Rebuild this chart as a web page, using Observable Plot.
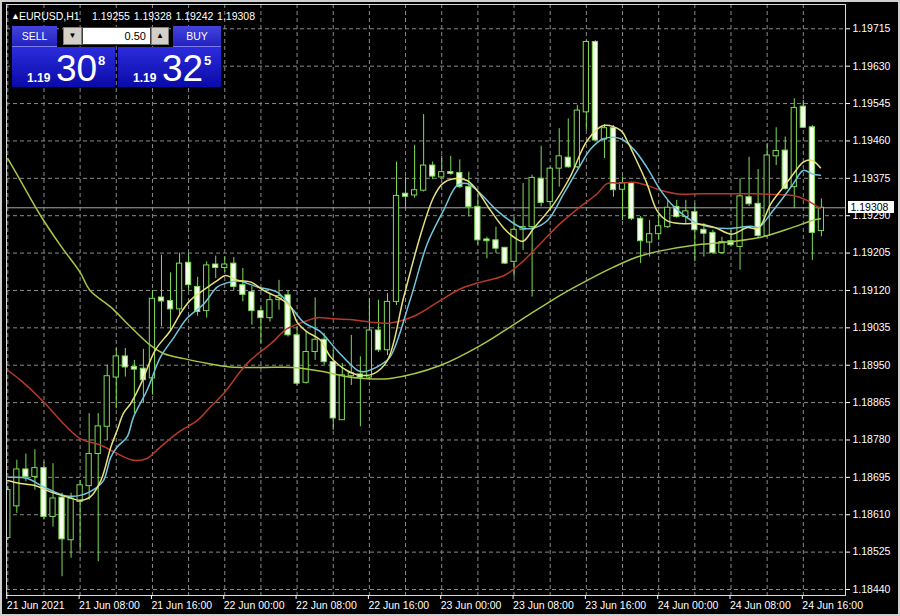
<!DOCTYPE html>
<html><head><meta charset="utf-8">
<script src="https://cdn.jsdelivr.net/npm/d3@7"></script>
<script src="https://cdn.jsdelivr.net/npm/@observablehq/plot@0.6"></script>
<style>
html,body{margin:0;padding:0;background:#000;}
#wrap{position:relative;width:900px;height:616px;overflow:hidden;background:#000;font-family:"Liberation Sans",Arial,sans-serif;}
#chart svg{display:block}
.abs{position:absolute;white-space:nowrap;line-height:1;}
.winborder{position:absolute;left:0;top:0;width:896px;height:612px;border:2px solid #cfcfcf;pointer-events:none;}
.btn{position:absolute;color:#fff;font-size:10.5px;text-align:center;background:linear-gradient(#4343dc,#2222bf);border-bottom:1px solid #7a7ae8;box-sizing:border-box;}
.pane{position:absolute;background:linear-gradient(#2c2cdc,#0a0aa8);}
.gray{position:absolute;background:#d4d0c8;box-sizing:border-box;border:1px solid #808080;color:#000;font-size:8px;text-align:center;}
</style></head>
<body>
<div id="wrap">
  <div id="chart"></div>
</div>
<script>
// ---- data (EURUSD H1, 21 Jun 2021 00:00 .. 24 Jun 2021 18:00) ----
const symbol = "EURUSD,H1";
const opens = [1.18557,1.18629,1.18713,1.18696,1.18716,1.18605,1.18649,1.18552,1.18639,1.18675,
1.18748,1.18810,1.18922,1.18970,1.18946,1.18942,1.18920,1.19104,1.19096,1.19077,
1.19183,1.19128,1.19073,1.19179,1.19171,1.19181,1.19132,1.19116,1.19073,1.19057,
1.19098,1.19109,1.19018,1.18910,1.18980,1.19008,1.18957,1.18825,1.18925,1.18929,
1.18922,1.19029,1.18984,1.19094,1.19340,1.19336,1.19347,1.19404,1.19377,1.19389,
1.19387,1.19355,1.19310,1.19236,1.19234,1.19217,1.19185,1.19258,1.19264,1.19374,
1.19321,1.19397,1.19422,1.19400,1.19525,1.19685,1.19463,1.19489,1.19349,1.19364,
1.19283,1.19229,1.19248,1.19264,1.19310,1.19287,1.19298,1.19258,1.19251,1.19205,
1.19232,1.19219,1.19332,1.19317,1.19244,1.19425,1.19438,1.19355,1.19538,1.19491,
1.19255];
const highs = [1.18675,1.18734,1.18748,1.18758,1.18730,1.18726,1.18659,1.18659,1.18688,1.18840,
1.18840,1.18950,1.18988,1.18988,1.18961,1.18986,1.19120,1.19200,1.19160,1.19205,
1.19204,1.19150,1.19185,1.19198,1.19196,1.19195,1.19170,1.19129,1.19082,1.19113,
1.19143,1.19120,1.19037,1.19026,1.19103,1.19022,1.18984,1.18954,1.19018,1.18969,
1.19101,1.19098,1.19113,1.19412,1.19378,1.19450,1.19520,1.19412,1.19425,1.19425,
1.19417,1.19389,1.19338,1.19241,1.19264,1.19218,1.19285,1.19363,1.19382,1.19448,
1.19400,1.19488,1.19510,1.19541,1.19688,1.19688,1.19497,1.19495,1.19378,1.19366,
1.19288,1.19279,1.19291,1.19325,1.19325,1.19325,1.19317,1.19272,1.19257,1.19241,
1.19257,1.19374,1.19423,1.19395,1.19454,1.19490,1.19469,1.19556,1.19552,1.19495,
1.19328];
const lows = [1.18552,1.18613,1.18685,1.18666,1.18598,1.18582,1.18469,1.18511,1.18529,1.18643,
1.18503,1.18779,1.18851,1.18923,1.18840,1.18863,1.18882,1.19037,1.19029,1.19060,
1.19120,1.19061,1.19057,1.19147,1.19161,1.19120,1.19094,1.19041,1.18999,1.19048,
1.19075,1.19014,1.18904,1.18907,1.18961,1.18950,1.18802,1.18825,1.18904,1.18810,
1.18916,1.18979,1.18972,1.19086,1.19306,1.19330,1.19344,1.19372,1.19374,1.19382,
1.19352,1.19287,1.19223,1.19192,1.19204,1.19179,1.19150,1.19211,1.19105,1.19310,
1.19302,1.19355,1.19398,1.19397,1.19484,1.19459,1.19420,1.19332,1.19279,1.19279,
1.19181,1.19196,1.19234,1.19261,1.19284,1.19272,1.19185,1.19196,1.19202,1.19202,
1.19219,1.19166,1.19311,1.19238,1.19240,1.19404,1.19348,1.19306,1.19488,1.19188,
1.19242];
const closes = [1.18666,1.18713,1.18696,1.18716,1.18605,1.18647,1.18554,1.18647,1.18677,1.18748,
1.18811,1.18925,1.18970,1.18945,1.18940,1.18916,1.19101,1.19095,1.19077,1.19181,
1.19132,1.19071,1.19177,1.19171,1.19179,1.19128,1.19110,1.19073,1.19057,1.19098,
1.19107,1.19018,1.18908,1.18980,1.19008,1.18957,1.18829,1.18927,1.18932,1.18922,
1.19029,1.18984,1.19094,1.19335,1.19333,1.19348,1.19404,1.19379,1.19389,1.19385,
1.19355,1.19310,1.19234,1.19232,1.19215,1.19181,1.19258,1.19264,1.19376,1.19319,
1.19397,1.19425,1.19400,1.19529,1.19685,1.19461,1.19489,1.19348,1.19364,1.19283,
1.19232,1.19248,1.19266,1.19308,1.19287,1.19300,1.19257,1.19249,1.19205,1.19230,
1.19223,1.19334,1.19316,1.19244,1.19427,1.19437,1.19351,1.19535,1.19490,1.19251,
1.19308];

// moving averages: [bar index, price]
const maFast = [[0,1.18688],[1.4,1.18681],[2.9,1.18677],[4.7,1.18662],[6.6,1.18650],[8,1.18643],[9.1,1.18650],[10.3,1.18688],[11.4,1.18764],[12.1,1.18802],[12.8,1.18841],[13.6,1.18863],[14.8,1.18911],[16.3,1.18984],[18,1.19029],[19.1,1.19068],[20.2,1.19098],[21.6,1.19120],[23.2,1.19143],[24.1,1.19154],[25.4,1.19143],[26.9,1.19139],[28.3,1.19120],[30.2,1.19101],[31.3,1.19082],[32,1.19048],[33.1,1.19026],[34.6,1.19007],[35.7,1.18969],[37.5,1.18938],[39,1.18927],[40.5,1.18931],[42,1.18961],[43.8,1.19105],[45.7,1.19249],[47.1,1.19332],[48.1,1.19363],[49.3,1.19374],[50.8,1.19370],[51.9,1.19348],[53.4,1.19302],[54.9,1.19261],[56,1.19241],[57,1.19232],[58.2,1.19262],[60.4,1.19317],[62.2,1.19378],[64.1,1.19461],[65.9,1.19495],[67.8,1.19484],[68.5,1.19461],[69.2,1.19431],[70.7,1.19363],[71.8,1.19302],[72.9,1.19279],[74.4,1.19272],[75.9,1.19272],[78.1,1.19264],[80.1,1.19248],[81.8,1.19263],[83,1.19261],[84.4,1.19317],[85.8,1.19355],[86.9,1.19385],[88,1.19412],[88.9,1.19416],[89.9,1.19399]];
const maMid = [[0.1,1.18695],[2.1,1.18693],[4,1.18673],[6.2,1.18654],[8,1.18654],[9.9,1.18673],[10.6,1.18688],[11.4,1.18741],[12.1,1.18764],[13.2,1.18787],[13.9,1.18832],[15.4,1.18893],[16.9,1.18969],[18.4,1.19014],[19.8,1.19056],[21.7,1.19090],[23.2,1.19128],[24.6,1.19139],[25.7,1.19141],[27.6,1.19128],[29.8,1.19116],[31.6,1.19075],[32.7,1.19048],[34.6,1.19026],[36.4,1.18984],[38.7,1.18938],[39.4,1.18935],[41.2,1.18950],[42.3,1.18969],[44.5,1.19098],[46.4,1.19226],[48.2,1.19302],[49.7,1.19359],[50.8,1.19363],[52.3,1.19340],[54.1,1.19302],[56,1.19272],[57.1,1.19261],[58.2,1.19262],[59.7,1.19279],[61.5,1.19340],[63,1.19393],[64.5,1.19442],[65.9,1.19465],[67.8,1.19465],[69.2,1.19442],[70.7,1.19400],[72.2,1.19348],[73.7,1.19310],[75.9,1.19276],[77.7,1.19264],[79.9,1.19261],[82.2,1.19266],[83.1,1.19264],[84.4,1.19295],[85.8,1.19332],[86.9,1.19363],[88,1.19393],[89,1.19385],[89.9,1.19382]];
const maSlow = [[0,1.18938],[1.4,1.18916],[4,1.18866],[5.8,1.18825],[8,1.18783],[10.3,1.18768],[12.1,1.18749],[13.9,1.18734],[15.4,1.18738],[16.5,1.18757],[18.7,1.18795],[21,1.18825],[22.4,1.18855],[23.9,1.18886],[25.7,1.18935],[26.8,1.18961],[29.1,1.18999],[30.9,1.19033],[32.7,1.19048],[34.2,1.19058],[35.7,1.19056],[37.9,1.19054],[40.1,1.19048],[42.3,1.19046],[45.1,1.19063],[47.9,1.19098],[50.1,1.19124],[52.3,1.19139],[54.9,1.19154],[56.7,1.19181],[58.9,1.19226],[61.1,1.19272],[63.3,1.19310],[65.2,1.19340],[66.3,1.19363],[67.8,1.19364],[69.2,1.19366],[70.7,1.19359],[72.2,1.19348],[74.4,1.19339],[76.6,1.19340],[79.6,1.19340],[82.5,1.19340],[85.1,1.19338],[86.9,1.19336],[88.4,1.19325],[89.9,1.19306]];
const maLong = [[0,1.19420],[1.4,1.19370],[3.6,1.19291],[5.8,1.19223],[8,1.19161],[9.1,1.19120],[11.4,1.19082],[13.6,1.19037],[15.8,1.18995],[17.3,1.18976],[19.5,1.18965],[22.1,1.18954],[24.6,1.18946],[28.3,1.18945],[31.6,1.18945],[35,1.18935],[37.2,1.18925],[39.4,1.18920],[42.3,1.18920],[47.9,1.18950],[52.3,1.18995],[56.7,1.19052],[61.1,1.19109],[64.1,1.19143],[67,1.19173],[69.6,1.19196],[72.2,1.19210],[75.9,1.19223],[79.6,1.19230],[83.3,1.19241],[86.9,1.19264],[89,1.19279],[89.9,1.19283]];

const priceTicks = [1.18440,1.18525,1.18610,1.18695,1.18780,1.18865,1.18950,1.19035,1.19120,1.19205,1.19290,1.19375,1.19460,1.19545,1.19630,1.19715];
const timeTickIdx = [0,8,16,24,32,40,48,56,64,72,80,88];
const timeTickLabels = ["21 Jun 2021","21 Jun 08:00","21 Jun 16:00","22 Jun 00:00","22 Jun 08:00","22 Jun 16:00","23 Jun 00:00","23 Jun 08:00","23 Jun 16:00","24 Jun 00:00","24 Jun 08:00","24 Jun 16:00"];
const gridIdx = d3.range(0, 91, 4);
const lotSize = "0.50";
const spreadAsk = 1.19325;

// ---- build ----
const bars = opens.map((o, i) => ({i, o, h: highs[i], l: lows[i], c: closes[i]}));
const last = bars[bars.length - 1];
const GREEN = "#7ddc55";
const GRID = "#8a8a8a";

const plot = Plot.plot({
  width: 900, height: 616,
  marginLeft: 6, marginRight: 55, marginTop: 4, marginBottom: 21,
  style: {background: "#000", color: "#fff", fontFamily: "'Liberation Sans', Arial, sans-serif", fontSize: "10.5px"},
  x: {domain: [0, 90], range: [7.3, 820.9], axis: null},
  y: {domain: [1.18440, 1.19715], range: [589, 28.3], axis: null},
  marks: [
    Plot.ruleY(priceTicks, {stroke: GRID, strokeDasharray: "4,3"}),
    Plot.ruleX(gridIdx, {stroke: GRID, strokeDasharray: "4,3"}),
    Plot.ruleY([last.c], {stroke: "#a8a8a8"}),
    Plot.ruleX(bars, {x: "i", y1: "l", y2: "h", stroke: GREEN, clip: "frame"}),
    Plot.rect(bars, {x1: d => d.i - 0.29, x2: d => d.i + 0.29, y1: "o", y2: "c",
      fill: d => d.c < d.o ? "#f4ffea" : "#000", stroke: GREEN, clip: "frame"}),
    Plot.line(maLong, {x: d => d[0], y: d => d[1], stroke: "#a6c846", curve: "catmull-rom", clip: "frame"}),
    Plot.line(maSlow, {x: d => d[0], y: d => d[1], stroke: "#b8382a", curve: "catmull-rom", clip: "frame"}),
    Plot.line(maMid, {x: d => d[0], y: d => d[1], stroke: "#72c6dc", curve: "catmull-rom", clip: "frame"}),
    Plot.line(maFast, {x: d => d[0], y: d => d[1], stroke: "#e6e27a", curve: "catmull-rom", clip: "frame"}),
    Plot.frame({stroke: "#d8d8d8"}),
    Plot.axisY(priceTicks, {anchor: "right", tickSize: 4, tickPadding: 3, tickFormat: d => d.toFixed(5), color: "#fff", label: null}),
    Plot.axisX(timeTickIdx, {anchor: "bottom", tickSize: 4, tickPadding: 2, textAnchor: "start", dx: -1,
      tickFormat: d => timeTickLabels[timeTickIdx.indexOf(d)], color: "#fff", label: null})
  ]
});
document.getElementById("chart").appendChild(plot);

// current price label box on the right axis (drawn over the axis, as in the terminal)
const svg = d3.select(plot);
const yS = plot.scale("y");
const yy = Math.round(yS.apply(last.c));
const g = svg.append("g");
g.append("rect").attr("x", 848.5).attr("y", yy - 5.5).attr("width", 45).attr("height", 11)
  .attr("fill", "#fff").attr("stroke", "#fff");
g.append("text").attr("x", 850.5).attr("y", yy + 4).attr("fill", "#000").attr("text-anchor", "start")
  .attr("font-size", "10.5px").attr("font-family", "'Liberation Sans', Arial, sans-serif").text(last.c.toFixed(5));

// header + one-click trading panel
const wrap = document.getElementById("wrap");
function add(html) { wrap.insertAdjacentHTML("beforeend", html); }
add(`<div class="abs" style="left:11px;top:12px;font-size:9px;color:#fff">▲</div>`);
add(`<div class="abs" style="left:19px;top:11px;font-size:10.5px;color:#fff">${symbol}</div>`);
[last.o, last.h, last.l, last.c].forEach((v, k) => {
  add(`<div class="abs" style="left:${92 + k * 41.7}px;top:11px;font-size:10.5px;color:#fff">${v.toFixed(5)}</div>`);
});
const bidStr = last.c.toFixed(5), askStr = spreadAsk.toFixed(5);
// SELL side
add(`<div class="pane" style="left:12px;top:26px;width:45px;height:61px"></div>`);
add(`<div class="pane" style="left:12px;top:47px;width:103px;height:40px"></div>`);
add(`<div class="btn" style="left:12px;top:26px;width:45px;height:21px;line-height:20px">SELL</div>`);
add(`<div class="abs" style="left:27px;top:71.5px;font-size:12px;font-weight:bold;color:#fff">${bidStr.slice(0,4)}</div>`);
add(`<div class="abs" style="left:56px;top:50px;font-size:37px;color:#fff">${bidStr.slice(4,6)}</div>`);
add(`<div class="abs" style="left:98px;top:53.5px;font-size:13px;font-weight:bold;color:#fff">${bidStr.slice(6)}</div>`);
// BUY side
add(`<div class="pane" style="left:173px;top:26px;width:48px;height:61px"></div>`);
add(`<div class="pane" style="left:118px;top:47px;width:103px;height:40px"></div>`);
add(`<div class="btn" style="left:173px;top:26px;width:48px;height:21px;line-height:20px">BUY</div>`);
add(`<div class="abs" style="left:133px;top:71.5px;font-size:12px;font-weight:bold;color:#fff">${askStr.slice(0,4)}</div>`);
add(`<div class="abs" style="left:162px;top:50px;font-size:37px;color:#fff">${askStr.slice(4,6)}</div>`);
add(`<div class="abs" style="left:204px;top:53.5px;font-size:13px;font-weight:bold;color:#fff">${askStr.slice(6)}</div>`);
// lot controls
add(`<div class="gray" style="left:63px;top:27px;width:19px;height:18px;line-height:16px">▼</div>`);
add(`<div class="abs" style="left:82px;top:27px;width:69px;height:18px;background:#fff;box-sizing:border-box;border:1px solid #404040;font-size:11px;color:#000;text-align:right;padding-right:4px;line-height:16px">${lotSize}</div>`);
add(`<div class="gray" style="left:151px;top:27px;width:18px;height:18px;line-height:16px">▲</div>`);
add(`<div class="winborder"></div>`);
</script>
</body></html>
